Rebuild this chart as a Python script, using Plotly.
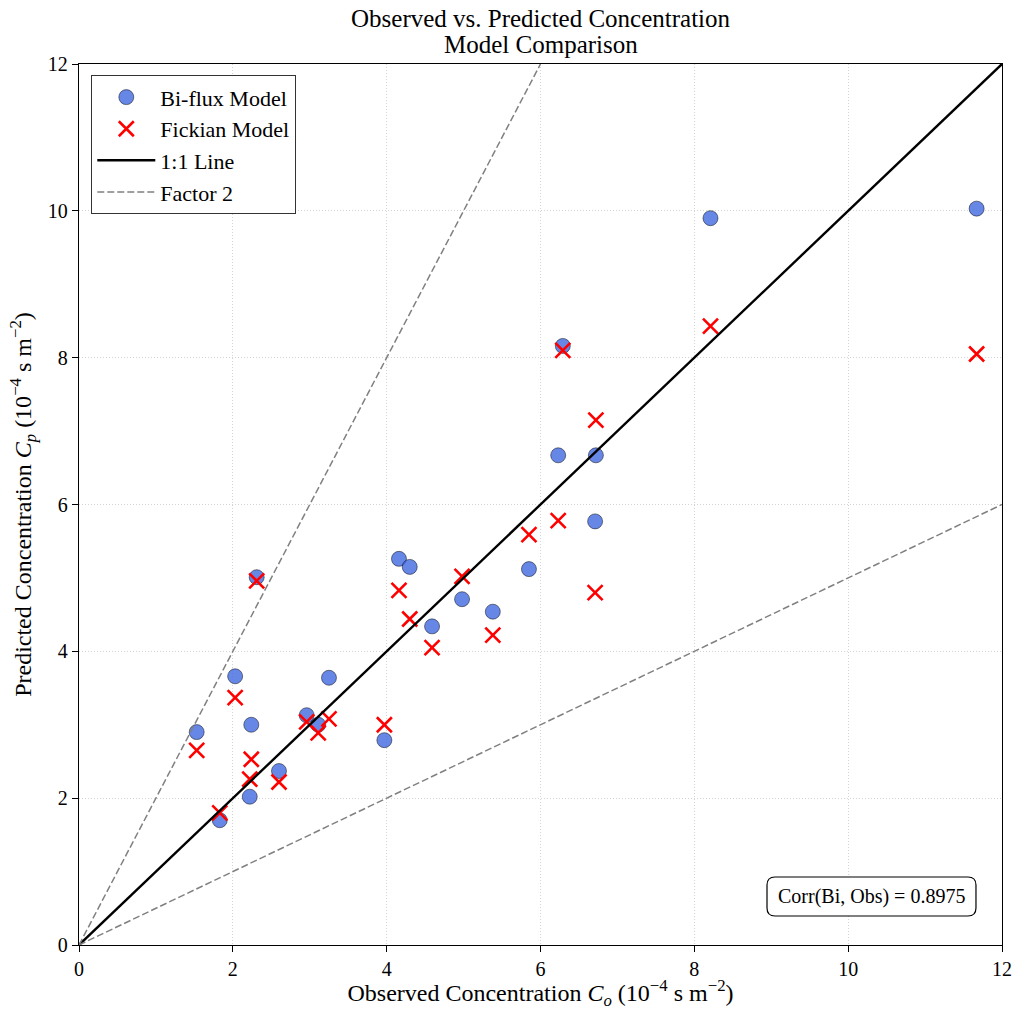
import plotly.graph_objects as go

observed = [1.53, 1.83, 2.03, 2.24, 2.22, 2.31, 2.60, 2.96, 3.11, 3.25, 3.97, 4.16,
            4.30, 4.59, 4.98, 5.38, 5.85, 6.23, 6.29, 6.72, 6.71, 8.21, 11.67]
biflux = [2.90, 1.70, 3.66, 3.00, 2.02, 5.01, 2.37, 3.13, 3.00, 3.64, 2.79, 5.26,
          5.15, 4.34, 4.71, 4.54, 5.12, 6.67, 8.16, 6.67, 5.77, 9.90, 10.03]
fickian = [2.65, 1.80, 3.37, 2.53, 2.26, 4.96, 2.22, 3.04, 2.89, 3.08, 3.00, 4.83,
           4.44, 4.05, 5.02, 4.22, 5.59, 5.78, 8.10, 7.15, 4.80, 8.43, 8.05]
line_x = [0, 12]
upper_x = [0, 6]
tick_vals = [0, 2, 4, 6, 8, 10, 12]
corr_text = "Corr(Bi, Obs) = 0.8975"
title_lines = ["Observed vs. Predicted Concentration", "Model Comparison"]

FONT = "Liberation Serif, Times New Roman, serif"

fig = go.Figure()
fig.add_trace(go.Scatter(
    x=observed, y=biflux, mode="markers", name="Bi-flux Model",
    marker=dict(symbol="circle", size=15, color="rgba(65,105,225,0.8)",
                line=dict(color="rgba(0,0,0,0.6)", width=0.8))))
fig.add_trace(go.Scatter(
    x=observed, y=fickian, mode="markers", name="Fickian Model",
    marker=dict(symbol="x-thin", size=15, color="red",
                line=dict(color="red", width=2.6))))
fig.add_trace(go.Scatter(
    x=line_x, y=line_x, mode="lines", name="1:1 Line",
    line=dict(color="black", width=2.4)))
fig.add_trace(go.Scatter(
    x=upper_x, y=[2 * v for v in upper_x], mode="lines", name="Factor 2",
    line=dict(color="gray", width=1.5, dash="7px,3px")))
fig.add_trace(go.Scatter(
    x=line_x, y=[0.5 * v for v in line_x], mode="lines", showlegend=False,
    line=dict(color="gray", width=1.5, dash="7px,3px")))

axis_common = dict(
    range=[0, 12], tickvals=tick_vals, showgrid=True, gridcolor="#d4d4d4",
    griddash="1px,2px", gridwidth=1, zeroline=False, showline=True, linecolor="black",
    linewidth=1.3, mirror=True, ticks="outside", ticklen=6, tickwidth=1.3,
    tickcolor="black", tickfont=dict(size=20, color="black", family=FONT),
    automargin=False,
)
fig.update_xaxes(**axis_common,
                 title=dict(text="Observed Concentration <i>C</i><sub><i>o</i></sub> (10<sup>\u22124</sup> s m<sup>\u22122</sup>)",
                            font=dict(size=24, color="black", family=FONT), standoff=5))
fig.update_yaxes(**axis_common,
                 title=dict(text="Predicted Concentration <i>C</i><sub><i>p</i></sub> (10<sup>\u22124</sup> s m<sup>\u22122</sup>)",
                            font=dict(size=24, color="black", family=FONT), standoff=9))

# rounded box for the correlation annotation
x0, x1, y0, y1 = 0.7454, 0.9718, 0.0329, 0.0772
rx, ry = 0.0087, 0.0091
path = (f"M {x0+rx},{y0} L {x1-rx},{y0} Q {x1},{y0} {x1},{y0+ry} "
        f"L {x1},{y1-ry} Q {x1},{y1} {x1-rx},{y1} L {x0+rx},{y1} "
        f"Q {x0},{y1} {x0},{y1-ry} L {x0},{y0+ry} Q {x0},{y0} {x0+rx},{y0} Z")
fig.add_shape(type="path", path=path, xref="paper", yref="paper",
              line=dict(color="black", width=1.2), fillcolor="white", layer="above")
fig.add_annotation(text=corr_text, xref="paper", yref="paper",
                   x=(x0 + x1) / 2, y=(y0 + y1) / 2, xanchor="center", yanchor="middle",
                   showarrow=False, font=dict(size=20, color="black", family=FONT))

# two-line title
for txt, ypos in zip(title_lines, [1.0511, 1.0227]):
    fig.add_annotation(text=txt, xref="paper", yref="paper", x=0.5, y=ypos,
                       xanchor="center", yanchor="middle", showarrow=False,
                       font=dict(size=25, color="black", family=FONT))

fig.update_layout(
    width=1014, height=1010,
    margin=dict(l=79, r=12, t=64, b=65, autoexpand=False),
    paper_bgcolor="white", plot_bgcolor="white",
    font=dict(family=FONT, color="black"),
    legend=dict(x=0.013, y=0.9875, xanchor="left", yanchor="top",
                bgcolor="white", bordercolor="#333", borderwidth=1.3,
                font=dict(size=22, color="black", family=FONT),
                tracegroupgap=0, itemwidth=58),
    showlegend=True,
)

fig.write_html("out.html")
